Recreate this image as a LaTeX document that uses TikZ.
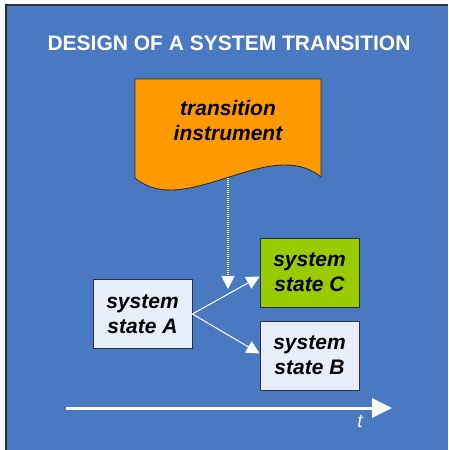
\documentclass[tikz,border=0pt]{standalone}
\usepackage{fontspec}
\setmainfont{Liberation Sans}
\usepackage{tikz}
\usetikzlibrary{arrows.meta, positioning, calc}
\definecolor{panelblue}{RGB}{73, 121, 192}
\definecolor{edgedark}{RGB}{45, 48, 60}
\definecolor{instrorange}{RGB}{255, 153, 0}
\definecolor{stategreen}{RGB}{153, 204, 0}
\definecolor{statelight}{RGB}{232, 238, 248}

\begin{document}
\begin{tikzpicture}[
    x=1pt, y=-1pt,
    statebox/.style={rectangle, draw=edgedark, line width=0.9pt, minimum width=99pt, minimum height=69pt, fill=#1, align=center, inner sep=2pt, font=\fontsize{21}{25}\selectfont\bfseries\itshape},
    arrow/.style={-{Triangle[length=13pt, width=13pt]}, white, line width=1pt},
    timearrow/.style={-{Triangle[length=20pt, width=19pt]}, white, line width=3pt}
]
    \useasboundingbox (0,0) rectangle (448,450);
    \fill[panelblue] (6,5) rectangle (448,450);
    \draw[edgedark, line width=1.2pt] (6,450) -- (6,5) -- (448,5);

    \node[white, font=\fontsize{21}{25}\selectfont\bfseries] (title) at (229,43) {DESIGN OF A SYSTEM TRANSITION};

    % transition instrument (document shape)
    \draw[edgedark, line width=0.9pt, fill=instrorange] (135,79) -- (321,79) -- (321,177)
        .. controls (270,135) and (185,220) .. (135,178) -- cycle;
    \node[align=center, font=\fontsize{21}{25}\selectfont\bfseries\itshape] (instr) at (228,120) {transition\\instrument};
    \coordinate (instrbot) at (228,178);
    \coordinate (hit) at (228,289);

    \node[statebox=statelight] (sa) at (142.5,314) {system\\state A};
    \node[statebox=stategreen] (sc) at (309.5,272.5) {system\\state C};
    \node[statebox=statelight] (sb) at (309.5,355.5) {system\\state B};

    \draw[arrow, densely dotted, line width=1.6pt] (instrbot) -- (hit);
    \draw[arrow] (sa.east) -- ($(sc.west)+(0,4)$);
    \draw[arrow] (sa.east) -- ($(sb.west)+(0,-2)$);

    % time axis
    \coordinate (t0) at (66,408);
    \coordinate (t1) at (392,408);
    \draw[timearrow] (t0) -- (t1);
    \node[white, font=\fontsize{19}{22}\selectfont\itshape] (tlabel) at (360,421) {t};
\end{tikzpicture}
\end{document}
